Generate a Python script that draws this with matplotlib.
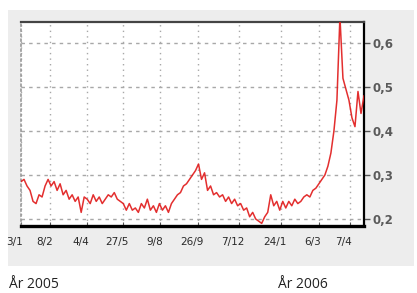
import matplotlib
matplotlib.use("Agg")
import matplotlib.pyplot as plt
import matplotlib.transforms as mtransforms
from matplotlib.patches import Rectangle
import numpy as np

# price series, one value per ~3 px of the original chart (trading days)
values = [
    0.285, 0.29, 0.275, 0.265, 0.24, 0.235, 0.255, 0.25, 0.275, 0.29,
    0.275, 0.285, 0.265, 0.28, 0.255, 0.265, 0.245, 0.255, 0.24, 0.25,
    0.215, 0.25, 0.245, 0.235, 0.255, 0.24, 0.25, 0.235, 0.245, 0.255,
    0.25, 0.26, 0.245, 0.24, 0.235, 0.22, 0.235, 0.22, 0.225, 0.215,
    0.235, 0.225, 0.245, 0.22, 0.23, 0.215, 0.235, 0.22, 0.23, 0.215,
    0.235, 0.245, 0.255, 0.26, 0.275, 0.28, 0.29, 0.30, 0.31, 0.325,
    0.29, 0.305, 0.265, 0.275, 0.255, 0.26, 0.25, 0.255, 0.24, 0.25,
    0.235, 0.245, 0.23, 0.235, 0.22, 0.225, 0.205, 0.215, 0.20, 0.195,
    0.19, 0.205, 0.215, 0.255, 0.23, 0.24, 0.22, 0.24, 0.225, 0.24,
    0.23, 0.245, 0.235, 0.24, 0.25, 0.255, 0.25, 0.265, 0.27, 0.28,
    0.29, 0.30, 0.32, 0.35, 0.40, 0.47, 0.66, 0.52, 0.495, 0.47,
    0.43, 0.41, 0.49, 0.44, 0.48,
]
tick_pos = [0, 9.7, 22, 34, 46.3, 58.7, 72.3, 86.3, 99, 109.3]
tick_labels = ['3/1', '8/2', '4/4', '27/5', '9/8', '26/9', '7/12', '24/1', '6/3', '7/4']
y_ticks = [0.2, 0.3, 0.4, 0.5, 0.6]
y_labels = ['0,2', '0,3', '0,4', '0,5', '0,6']
years = ['År 2005', 'År 2006']

W, H = 417, 293
fig = plt.figure(figsize=(W / 100, H / 100), dpi=100)
fig.patch.set_facecolor('white')

# gray panel behind the chart
fig.patches.append(Rectangle((8 / W, 1 - 266 / H), 406 / W, 256 / H,
                             transform=fig.transFigure, facecolor='#ededed',
                             edgecolor='none', zorder=-10))

ax = fig.add_axes([21 / W, 1 - 226 / H, 343 / W, 204 / H])
ax.set_facecolor('white')

x = np.arange(len(values))
ax.plot(x, values, color='#e01818', lw=1.1, alpha=0.9, zorder=3)

ax.set_xlim(0, len(values) - 1)
ax.set_ylim(0.184, 0.648)

ax.set_xticks(tick_pos)
ax.set_xticklabels(tick_labels)
ax.set_yticks(y_ticks)
ax.set_yticklabels(y_labels)
ax.yaxis.tick_right()

ax.grid(axis='y', color='#a8a8a8', linestyle=(0, (2.5, 3)), lw=1.0)
ax.grid(axis='x', color='#a8a8a8', linestyle=(0, (1, 3)), lw=1.0)

ax.tick_params(axis='x', length=3, direction='in', pad=8, labelsize=7.5,
               labelcolor='#2a2a2a', color='#555555')
ax.tick_params(axis='y', length=4, width=1, pad=2, labelsize=8.5,
               labelcolor='#5a5a5a', color='#555555')
for lab in ax.get_yticklabels():
    lab.set_fontweight('bold')

shift = mtransforms.ScaledTranslation(-6 / 100, 0, fig.dpi_scale_trans)
for lab in ax.get_xticklabels():
    lab.set_transform(lab.get_transform() + shift)

ax.spines['bottom'].set_linewidth(2.4)
ax.spines['bottom'].set_color('black')
ax.spines['right'].set_linewidth(1.6)
ax.spines['right'].set_color('black')
ax.spines['top'].set_linewidth(1.6)
ax.spines['top'].set_color('#444444')
ax.spines['left'].set_linewidth(1.2)
ax.spines['left'].set_color('#999999')
ax.spines['left'].set_linestyle((0, (1, 2)))

fig.text(9 / W, 1 - 284 / H, years[0], fontsize=10, family='Open Sans',
         color='#222222', va='center', ha='left')
fig.text(278 / W, 1 - 284 / H, years[1], fontsize=10, family='Open Sans',
         color='#222222', va='center', ha='left')

fig.savefig('out.png', dpi=100)
